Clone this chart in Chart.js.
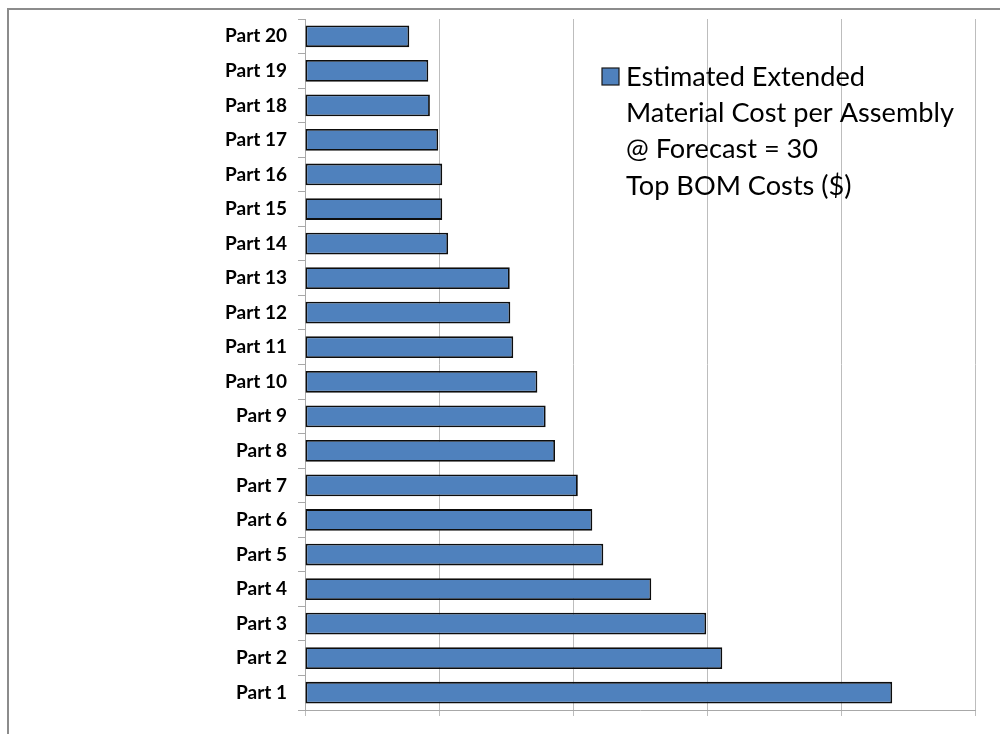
<!DOCTYPE html>
<html>
<head>
<meta charset="utf-8">
<script src="https://cdn.jsdelivr.net/npm/chart.js@4"></script>
<style>
  html, body { margin: 0; padding: 0; background: #ffffff; overflow: hidden; }
  #frame { position: absolute; left: 7px; top: 8px; width: 1100px; height: 900px;
           border-left: 2px solid #8c8c8c; border-top: 2px solid #8c8c8c; }
  #wrap { position: absolute; left: 0; top: 0; width: 1000px; height: 734px; }
</style>
</head>
<body>
<div id="frame"></div>
<div id="wrap"><canvas id="c" width="1000" height="734"></canvas></div>
<script>
// ---- data ----
const categories = ["Part 1","Part 2","Part 3","Part 4","Part 5","Part 6","Part 7","Part 8","Part 9","Part 10",
                    "Part 11","Part 12","Part 13","Part 14","Part 15","Part 16","Part 17","Part 18","Part 19","Part 20"];
const costValues = [219.1, 155.7, 149.7, 129.2, 111.3, 107.2, 101.8, 93.3, 89.8, 86.7,
                    77.7, 76.6, 76.4, 53.4, 51.2, 51.2, 49.7, 46.6, 46.0, 38.9];
const legendLines = ["Estimated Extended", "Material Cost per Assembly", "@ Forecast = 30", "Top BOM Costs ($)"];
const xTicks = [0, 50, 100, 150, 200, 250];

const legendPlugin = {
  id: 'sideLegend',
  afterDraw(chart) {
    const ctx = chart.ctx;
    const ds = chart.data.datasets[0];
    ctx.save();
    ctx.font = '100px Lato';
    const w = ctx.measureText(legendLines[1]).width;
    const size = 100 * 328 / w;
    ctx.font = size + 'px Lato';
    ctx.fillStyle = '#000000';
    ctx.textBaseline = 'middle';
    ctx.textAlign = 'left';
    const x0 = 626, y0 = 77, lh = 36.3;
    legendLines.forEach((t, i) => ctx.fillText(t, x0, y0 + i * lh));
    ctx.fillStyle = ds.backgroundColor;
    ctx.fillRect(602, 68, 17, 17);
    ctx.strokeStyle = '#1a1a1a';
    ctx.lineWidth = 1.2;
    ctx.strokeRect(602, 68, 17, 17);
    ctx.restore();
  }
};

new Chart(document.getElementById('c'), {
  type: 'bar',
  data: {
    labels: categories,
    datasets: [{
      label: legendLines.join(' '),
      data: costValues,
      backgroundColor: '#4f81bd',
      borderColor: '#0d0d0d',
      borderWidth: 1.8,
      borderSkipped: false,
      categoryPercentage: 1.0,
      barPercentage: 0.63
    }]
  },
  options: {
    indexAxis: 'y',
    responsive: false,
    devicePixelRatio: 1,
    animation: false,
    layout: { padding: { top: 19, right: 25, bottom: 0, left: 0 } },
    plugins: { legend: { display: false }, tooltip: { enabled: false } },
    scales: {
      x: {
        min: xTicks[0],
        max: xTicks[xTicks.length - 1],
        afterBuildTicks(scale) { scale.ticks = xTicks.map(v => ({ value: v })); },
        afterFit(scale) { scale.height = 24; scale.paddingLeft = 0; scale.paddingRight = 0; },
        ticks: { display: false },
        grid: { color: '#bdbdbd', lineWidth: 1, drawTicks: true, tickLength: 6 },
        border: { display: true, color: '#a8a8a8', width: 1 }
      },
      y: {
        reverse: true,
        afterFit(scale) { scale.width = 305; scale.paddingTop = 0; scale.paddingBottom = 0; },
        ticks: {
          color: '#000000',
          padding: 11,
          font: { family: 'Lato', weight: 'bold', size: 19 }
        },
        grid: { drawOnChartArea: false, drawTicks: true, tickLength: 7, color: '#a8a8a8', offset: true },
        border: { display: true, color: '#a8a8a8', width: 1 }
      }
    }
  },
  plugins: [legendPlugin]
});
</script>
</body>
</html>
